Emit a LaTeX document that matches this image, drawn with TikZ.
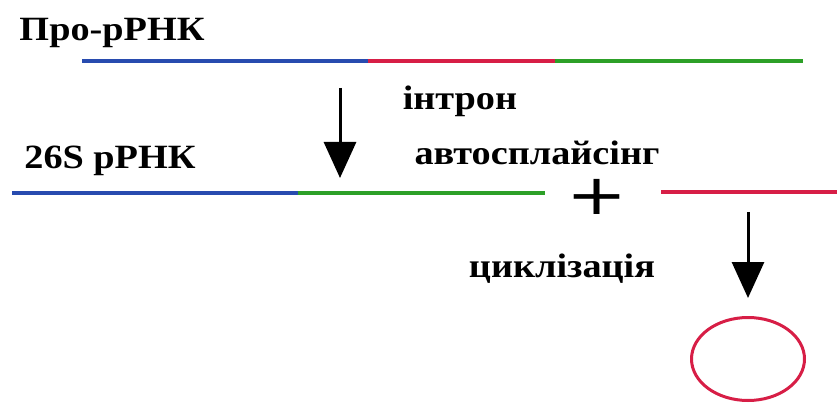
\documentclass[tikz,border=0pt]{standalone}
\usepackage{fontspec}
\setmainfont{Liberation Serif}
\newfontfamily\plusfont{DejaVu Sans}
\usetikzlibrary{arrows.meta,shapes.geometric}
\definecolor{rblue}{RGB}{40,75,175}
\definecolor{rred}{RGB}{215,30,70}
\definecolor{rgreen}{RGB}{45,160,40}
\tikzset{
  seg/.style={line width=4pt},
  lbl/.style={font=\bfseries\fontsize{34}{36}\selectfont, inner sep=0pt, xscale=1.125},
  bigarrow/.style={line width=3pt, -{Triangle[width=32pt,length=36pt]}}
}
\begin{document}
\begin{tikzpicture}[x=1pt,y=-1pt]
\useasboundingbox (0,0) rectangle (837,403);
% top line
\coordinate (a0) at (82,61);
\coordinate (a1) at (368,61);
\coordinate (a2) at (555,61);
\coordinate (a3) at (803,61);
\draw[seg,rblue] (a0) -- (a1);
\draw[seg,rred] (a1) -- (a2);
\draw[seg,rgreen] (a2) -- (a3);
% second line
\coordinate (b0) at (12,193);
\coordinate (b1) at (298,193);
\coordinate (b2) at (545,193);
\draw[seg,rblue] (b0) -- (b1);
\draw[seg,rgreen] (b1) -- (b2);
\coordinate (c0) at (661,192);
\coordinate (c1) at (837,192);
\draw[seg,rred] (c0) -- (c1);
% labels
\node[lbl] (pro) at (112,33) {Про-рРНК};
\node[lbl] (s26) at (110,161) {26S рРНК};
\node[lbl] (intron) at (460,101) {інтрон};
\node[lbl] (auto) at (537,153) {автосплайсінг};
\node[lbl] (cycl) at (562,269) {циклізація};
\node[inner sep=0pt, xscale=1.3, font=\plusfont\fontsize{56}{56}\selectfont] (plus) at (597,197) {+};
% arrows
\coordinate (r1s) at (340,88);
\coordinate (r1e) at (340,178);
\draw[bigarrow] (r1s) -- (r1e);
\coordinate (r2s) at (748,212);
\coordinate (r2e) at (748,298);
\draw[bigarrow] (r2s) -- (r2e);
% circle
\node[draw=rred, line width=3pt, ellipse, minimum width=113pt, minimum height=83pt, inner sep=0pt] (ring) at (748,359) {};
\end{tikzpicture}
\end{document}
